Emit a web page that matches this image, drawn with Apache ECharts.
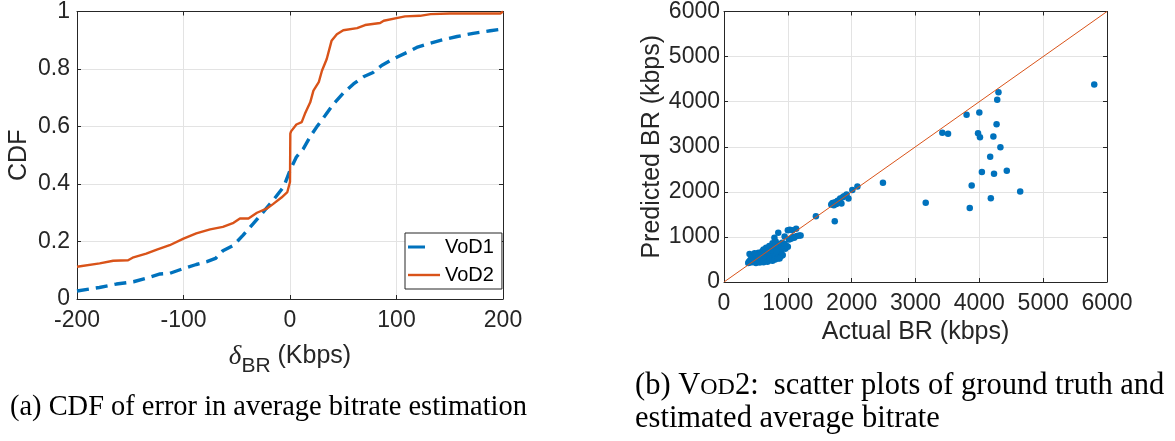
<!DOCTYPE html>
<html>
<head>
<meta charset="utf-8">
<script src="https://cdn.jsdelivr.net/npm/echarts@6/dist/echarts.min.js"></script>
<style>
  html, body { margin: 0; padding: 0; background: #fff; }
  #main { width: 1175px; height: 441px; }
</style>
</head>
<body>
<div id="main"></div>
<script>
// CDF of bitrate error (Kbps)
var vod1X = [-200, -179, -163, -147, -135, -122, -113, -100, -88, -78, -70, -63, -53, -44, -34.5, -25, -16, -6, 0, 6, 12.6, 19, 25, 33, 41, 50, 59.6, 69, 78, 86, 97, 110, 119, 132, 144, 157, 172, 188, 200];
var vod1Y = [0.028, 0.040, 0.052, 0.060, 0.072, 0.087, 0.089, 0.106, 0.120, 0.130, 0.141, 0.168, 0.187, 0.222, 0.262, 0.303, 0.343, 0.390, 0.447, 0.494, 0.523, 0.565, 0.598, 0.638, 0.679, 0.716, 0.748, 0.773, 0.788, 0.812, 0.835, 0.858, 0.875, 0.890, 0.902, 0.913, 0.924, 0.933, 0.939];

var vod2X = [-200, -178.7, -166, -152, -147, -135, -125, -113, -100, -88, -75, -63, -53, -47, -39, -31, -22, -16, -8, -2.5, 0, 0.3, 1, 6, 11, 14, 19, 22, 27, 30, 34.5, 39, 44, 50, 63, 70.5, 84.6, 88, 100, 108, 122, 132, 150, 197.5, 200];
var vod2Y = [0.112, 0.124, 0.133, 0.135, 0.145, 0.158, 0.172, 0.187, 0.210, 0.228, 0.242, 0.251, 0.265, 0.280, 0.280, 0.300, 0.314, 0.330, 0.353, 0.372, 0.407, 0.575, 0.583, 0.607, 0.615, 0.644, 0.684, 0.725, 0.754, 0.794, 0.835, 0.898, 0.921, 0.935, 0.942, 0.953, 0.960, 0.968, 0.977, 0.983, 0.985, 0.991, 0.993, 0.993, 1.0];

// VoD2 scatter: actual vs predicted bitrate (kbps)
var actualBR = [380, 390, 400, 410, 420, 430, 440, 450, 460, 470, 480, 490, 500, 510, 520, 530, 540, 550, 560, 570,
  580, 590, 600, 610, 620, 630, 640, 650, 660, 670, 680, 690, 700, 710, 720, 730, 740, 750, 760, 770,
  780, 790, 800, 810, 820, 830, 840, 850, 860, 870, 880, 900, 920, 940, 960, 980, 1000, 1020, 1050, 1080,
  1100, 1140, 1180, 1200, 400, 430, 460, 480, 510, 540, 570, 600, 620, 640, 660, 690, 710, 730, 760, 780,
  790, 810, 850, 880, 910, 950, 1030, 1070, 1130, 1000, 500, 560, 620, 680, 720, 760, 800, 840, 880, 910,
  870, 450, 500, 550, 600, 650, 700, 750, 800, 850, 900, 950, 520, 580, 640, 700, 760, 820, 540, 610, 680,
  1680, 1700, 1720, 1740, 1760, 1780, 1800, 1820, 1840, 1860, 1880, 1920, 1950, 1735, 1440, 2010, 2090, 2490,
  3160, 3420, 3510, 3800, 3850, 3880, 3980, 4000, 4010, 4040, 4170, 4180, 4220, 4230, 4270, 4280, 4300, 4330, 4430, 4640, 5800];
var predictedBR = [420, 450, 430, 480, 460, 500, 440, 470, 520, 480, 450, 500, 540, 470, 510, 560, 480, 520, 600, 460,
  540, 500, 580, 620, 520, 480, 560, 600, 520, 640, 580, 500, 620, 560, 680, 600, 520, 660, 580, 700,
  620, 540, 680, 600, 740, 650, 560, 700, 620, 760, 680, 720, 600, 780, 740, 800, 780, 940, 960, 1000,
  980, 1020, 1030, 1030, 620, 560, 600, 640, 600, 650, 620, 680, 720, 660, 760, 720, 800, 760, 860, 820,
  980, 900, 1090, 840, 870, 1010, 1160, 1150, 1180, 1150, 420, 430, 440, 450, 480, 470, 500, 520, 560, 590,
  520, 540, 600, 560, 640, 680, 700, 740, 760, 800, 800, 850, 450, 580, 620, 660, 700, 680, 540, 550, 690,
  1720, 1750, 1700, 1770, 1730, 1800, 1760, 1850, 1740, 1880, 1900, 1940, 1850, 1350, 1460, 2040, 2120, 2200,
  1760, 3310, 3290, 3710, 1640, 2140, 3300, 3760, 3210, 2440, 2780, 1860, 3230, 2400, 3500, 4040, 4210, 2990, 2470, 2010, 4380];
var diagX = [0, 6000];

var cdfTicksX = [-200, -100, 0, 100, 200];
var brTicks = [0, 1000, 2000, 3000, 4000, 5000, 6000];

function zip(a, b) {
  var out = [];
  for (var i = 0; i < a.length; i++) out.push([a[i], b[i]]);
  return out;
}

var chart = echarts.init(document.getElementById('main'), null, { renderer: 'canvas' });

var axisColor = '#262626';
var sans = '"Liberation Sans", Arial, sans-serif';
var serif = '"Liberation Serif", "Times New Roman", serif';
var plain = function (v) { return String(v); };

function baseAxis(extra) {
  var a = {
    type: 'value',
    axisLine: { show: true, onZero: false, lineStyle: { color: axisColor, width: 1 } },
    axisTick: { show: true, inside: true, length: 4, lineStyle: { color: axisColor } },
    axisLabel: { color: axisColor, fontFamily: sans, fontSize: 23 },
    splitLine: { show: false },
    nameTextStyle: { color: axisColor, fontFamily: sans, fontSize: 25 }
  };
  for (var k in extra) a[k] = extra[k];
  return a;
}

var gridLine = { show: true, lineStyle: { color: '#e3e3e3', width: 1 } };

var option = {
  animation: false,
  backgroundColor: '#fff',
  grid: [
    { left: 77, top: 11, width: 426, height: 288 },
    { left: 724, top: 11, width: 383, height: 271 }
  ],
  xAxis: [
    baseAxis({ gridIndex: 0, min: cdfTicksX[0], max: cdfTicksX[cdfTicksX.length - 1], interval: 100,
      splitLine: gridLine, axisLabel: { color: axisColor, fontFamily: sans, fontSize: 23, margin: 10 },
      name: '{d|δ}{s|BR}{n| (Kbps)}', nameLocation: 'middle', nameGap: 37,
      nameTextStyle: { color: axisColor, rich: {
        d: { fontFamily: serif, fontStyle: 'italic', fontSize: 27, color: axisColor },
        s: { fontFamily: sans, fontSize: 21, color: axisColor, padding: [20, 0, 0, 0] },
        n: { fontFamily: sans, fontSize: 25, color: axisColor }
      } } }),
    baseAxis({ gridIndex: 0, position: 'top', min: -200, max: 200, interval: 100, axisLabel: { show: false } }),
    baseAxis({ gridIndex: 1, min: brTicks[0], max: brTicks[brTicks.length - 1], interval: 1000,
      splitLine: gridLine, axisLabel: { color: axisColor, fontFamily: sans, fontSize: 23, margin: 10, formatter: plain },
      name: 'Actual BR (kbps)', nameLocation: 'middle', nameGap: 38 }),
    baseAxis({ gridIndex: 1, position: 'top', min: 0, max: 6000, interval: 1000, axisLabel: { show: false } })
  ],
  yAxis: [
    baseAxis({ gridIndex: 0, min: 0, max: 1, interval: 0.2, splitLine: gridLine,
      axisLabel: { color: axisColor, fontFamily: sans, fontSize: 23, margin: 7 },
      name: 'CDF', nameLocation: 'middle', nameGap: 45 }),
    baseAxis({ gridIndex: 0, position: 'right', min: 0, max: 1, interval: 0.2, axisLabel: { show: false } }),
    baseAxis({ gridIndex: 1, min: 0, max: 6000, interval: 1000, splitLine: gridLine,
      axisLabel: { color: axisColor, fontFamily: sans, fontSize: 23, margin: 4, formatter: plain },
      name: 'Predicted BR (kbps)', nameLocation: 'middle', nameGap: 56 }),
    baseAxis({ gridIndex: 1, position: 'right', min: 0, max: 6000, interval: 1000, axisLabel: { show: false } })
  ],
  legend: {
    left: 405, top: 233, orient: 'vertical',
    itemWidth: 32, itemHeight: 19, itemGap: 8,
    padding: [4, 8, 4, 3],
    borderColor: axisColor, borderWidth: 1, backgroundColor: '#fff',
    textStyle: { color: '#000', fontFamily: sans, fontSize: 20 },
    data: [
      { name: 'VoD1', icon: 'path://M0,0 L17,0 L17,3.2 L0,3.2 Z M32,1.6 L32,1.61 L31.99,1.61 Z',
        itemStyle: { color: '#0072BD' } },
      { name: 'VoD2', icon: 'path://M0,0 L32,0 L32,2.4 L0,2.4 Z', itemStyle: { color: '#D95319' } }
    ]
  },
  series: [
    {
      name: 'VoD1', type: 'line', xAxisIndex: 0, yAxisIndex: 0,
      data: zip(vod1X, vod1Y), showSymbol: false, symbol: 'none',
      lineStyle: { color: '#0072BD', width: 3.4, type: [12, 7] }, itemStyle: { color: '#0072BD' }, z: 3
    },
    {
      name: 'VoD2', type: 'line', xAxisIndex: 0, yAxisIndex: 0,
      data: zip(vod2X, vod2Y), showSymbol: false, symbol: 'none',
      lineStyle: { color: '#D95319', width: 2.4 }, itemStyle: { color: '#D95319' }, z: 4
    },
    {
      name: 'scatter', type: 'scatter', xAxisIndex: 2, yAxisIndex: 2,
      data: zip(actualBR, predictedBR), symbolSize: 6.5,
      itemStyle: { color: '#0072BD', opacity: 1 }, z: 3
    },
    {
      name: 'diag', type: 'line', xAxisIndex: 2, yAxisIndex: 2,
      data: zip(diagX, diagX), showSymbol: false, symbol: 'none',
      lineStyle: { color: '#D95319', width: 1 }, z: 4
    }
  ],
  graphic: [
    { type: 'text', x: 10, y: 407, scaleX: 0.98, style: { text: '(a) CDF of error in average bitrate estimation',
      font: '29px ' + serif, fill: '#000', verticalAlign: 'middle' } },
    { type: 'text', x: 635, y: 386, style: { text: '(b) V{sc|OD}2:  scatter plots of ground truth and',
      font: '30.5px ' + serif, fill: '#000', verticalAlign: 'middle',
      rich: { sc: { font: '24px ' + serif, fill: '#000', padding: [4, 0, 0, 0] } } } },
    { type: 'text', x: 635, y: 419, style: { text: 'estimated average bitrate',
      font: '30.5px ' + serif, fill: '#000', verticalAlign: 'middle' } }
  ]
};

chart.setOption(option);
</script>
</body>
</html>
